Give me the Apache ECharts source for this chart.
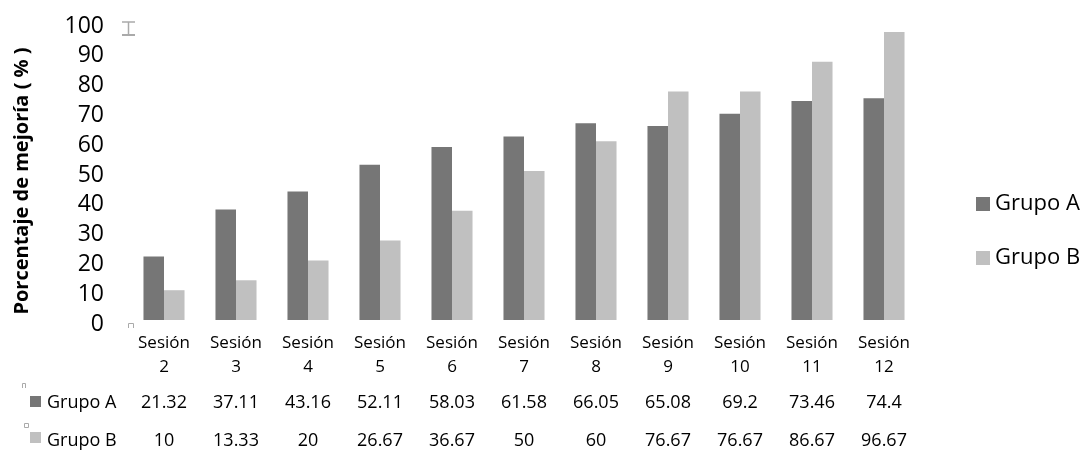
<!DOCTYPE html>
<html>
<head>
<meta charset="utf-8">
<script src="https://cdn.jsdelivr.net/npm/echarts@6/dist/echarts.min.js"></script>
<style>
  html, body { margin: 0; padding: 0; background: #fff; }
  #chart { width: 1083px; height: 450px; }
</style>
</head>
<body>
<div id="chart"></div>
<script>
// Session labels and improvement percentages per group
const sessions = ['Sesión\n2', 'Sesión\n3', 'Sesión\n4', 'Sesión\n5', 'Sesión\n6', 'Sesión\n7',
                  'Sesión\n8', 'Sesión\n9', 'Sesión\n10', 'Sesión\n11', 'Sesión\n12'];
const grupoA = [21.32, 37.11, 43.16, 52.11, 58.03, 61.58, 66.05, 65.08, 69.2, 73.46, 74.4];
const grupoB = [10, 13.33, 20, 26.67, 36.67, 50, 60, 76.67, 76.67, 86.67, 96.67];
const seriesNames = ['Grupo A', 'Grupo B'];
const yTitle = 'Porcentaje de mejoría ( % )';
const colorA = '#767676';
const colorB = '#c0c0c0';
const FONT = 'Open Sans';

const chart = echarts.init(document.getElementById('chart'));

// Extra category axes under the plot act as the rows of the data table
function tableAxis(values, offset) {
  return {
    type: 'category',
    data: values.map(String),
    position: 'bottom',
    offset: offset,
    axisLine: { show: false },
    axisTick: { show: false },
    axisLabel: { color: '#000', fontSize: 18, fontFamily: FONT, margin: 0, interval: 0 }
  };
}

const option = {
  animation: false,
  backgroundColor: '#fff',
  grid: { left: 128, right: 163, top: 22, bottom: 128 },
  legend: {
    orient: 'vertical',
    left: 971,
    top: 188,
    itemWidth: 14,
    itemHeight: 14,
    itemGap: 32,
    icon: 'rect',
    textStyle: { fontSize: 22, fontFamily: FONT, color: '#000' },
    data: seriesNames
  },
  xAxis: [
    {
      type: 'category',
      data: sessions,
      axisLine: { show: false },
      axisTick: { show: false },
      axisLabel: { color: '#000', fontSize: 17, lineHeight: 24, fontFamily: FONT, margin: 11, interval: 0 }
    },
    tableAxis(grupoA, 74),
    tableAxis(grupoB, 112)
  ],
  yAxis: {
    type: 'value',
    min: 0,
    max: 100,
    interval: 10,
    axisLine: { show: false },
    axisTick: { show: false },
    splitLine: { show: false },
    axisLabel: { color: '#000', fontSize: 23, fontFamily: FONT, margin: 24,
                 verticalAlign: 'top', lineHeight: 8 }
  },
  series: [
    {
      name: seriesNames[0],
      type: 'bar',
      data: grupoA,
      itemStyle: { color: colorA },
      barGap: '0%',
      barCategoryGap: '43%'
    },
    {
      name: seriesNames[1],
      type: 'bar',
      data: grupoB,
      itemStyle: { color: colorB },
      barGap: '0%',
      barCategoryGap: '43%'
    }
  ],
  graphic: [
    // vertical axis title
    { type: 'text', x: 22, y: 181, rotation: Math.PI / 2,
      style: { text: yTitle, fontSize: 20, fontWeight: 'bold', fontFamily: FONT, fill: '#000',
               align: 'center', verticalAlign: 'middle' } },
    // data table row headers with their colour keys
    { type: 'rect', left: 30, top: 396, shape: { width: 11, height: 11 }, style: { fill: colorA } },
    { type: 'text', left: 47, top: 394, style: { text: seriesNames[0], fontSize: 18, fontFamily: FONT, fill: '#000' } },
    { type: 'rect', left: 30, top: 432, shape: { width: 11, height: 11 }, style: { fill: colorB } },
    { type: 'text', left: 47, top: 432, style: { text: seriesNames[1], fontSize: 18, fontFamily: FONT, fill: '#000' } },
    // small handle marks
    { type: 'polyline', shape: { points: [[122, 22], [135, 22]] }, style: { stroke: '#aaa', lineWidth: 1.5 } },
    { type: 'polyline', shape: { points: [[128.5, 22], [128.5, 35]] }, style: { stroke: '#aaa', lineWidth: 1.5 } },
    { type: 'polyline', shape: { points: [[122, 35], [135, 35]] }, style: { stroke: '#aaa', lineWidth: 2 } },
    { type: 'polyline', shape: { points: [[128.5, 328], [128.5, 323.5], [133.5, 323.5], [133.5, 328]] }, style: { stroke: '#aaa', lineWidth: 1, fill: null } },
    { type: 'polyline', shape: { points: [[22.5, 388], [22.5, 383.5], [25.5, 383.5], [25.5, 388]] }, style: { stroke: '#aaa', lineWidth: 1, fill: null } },
    { type: 'rect', left: 22, top: 421, shape: { width: 4, height: 4 }, style: { stroke: '#aaa', lineWidth: 1, fill: null } }
  ]
};

chart.setOption(option);
</script>
</body>
</html>
